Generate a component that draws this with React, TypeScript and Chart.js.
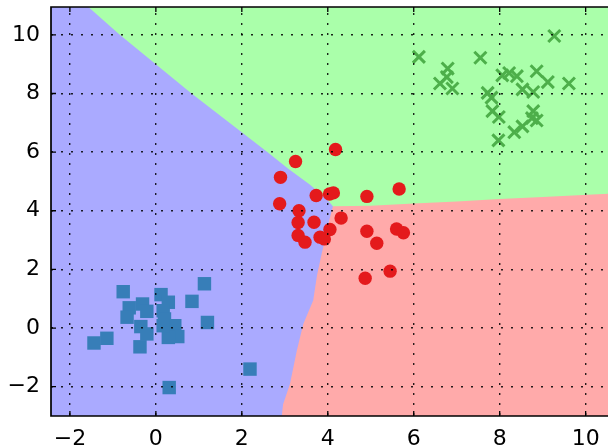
import React, { useEffect, useRef } from 'react';
import { Chart, registerables } from 'chart.js';
Chart.register(...registerables);

// Axis limits and ticks
const xLimits = [-2.44, 10.52];
const yLimits = [-3.0, 10.95];
const xTickValues = [-2, 0, 2, 4, 6, 8, 10];
const xTickLabels = ['−2', '0', '2', '4', '6', '8', '10'];
const yTickValues = [-2, 0, 2, 4, 6, 8, 10];
const yTickLabels = ['−2', '0', '2', '4', '6', '8', '10'];

// Class samples
const blueSquares: number[][] = [
  [1.13, 1.51], [-0.76, 1.24], [0.12, 1.14], [0.29, 0.88], [0.84, 0.91], [-0.62, 0.69],
  [-0.31, 0.82], [-0.21, 0.57], [-0.67, 0.37], [0.17, 0.59], [0.2, 0.31], [-0.35, 0.05],
  [-0.21, -0.2], [0.44, 0.08], [0.51, -0.29], [0.29, -0.32], [1.2, 0.19], [-1.14, -0.35],
  [-1.44, -0.51], [-0.37, -0.64], [0.31, -2.03], [0.17, 0.08], [2.19, -1.4],
];
const redCircles: number[][] = [
  [4.18, 6.09], [3.25, 5.68], [2.9, 5.14], [3.73, 4.52], [4.04, 4.57], [4.13, 4.61],
  [4.91, 4.49], [5.66, 4.74], [2.88, 4.24], [3.33, 4.0], [3.31, 3.6], [3.68, 3.61],
  [4.31, 3.75], [4.05, 3.36], [3.31, 3.16], [3.47, 2.93], [3.82, 3.1], [3.92, 3.04],
  [4.91, 3.3], [5.14, 2.89], [5.6, 3.38], [5.76, 3.25], [5.45, 1.94], [4.87, 1.7],
];
const greenCrosses: number[][] = [
  [9.27, 9.96], [6.12, 9.25], [7.55, 9.22], [6.79, 8.85], [6.77, 8.56], [6.61, 8.34],
  [6.9, 8.17], [8.06, 8.62], [8.22, 8.7], [8.4, 8.59], [8.86, 8.76], [9.12, 8.39],
  [9.61, 8.34], [8.53, 8.14], [8.78, 8.05], [7.72, 8.02], [7.81, 7.86], [7.83, 7.4],
  [7.98, 7.2], [8.78, 7.4], [8.75, 7.16], [8.86, 7.08], [8.53, 6.88], [8.34, 6.68],
  [7.97, 6.4],
];

// Decision boundaries
const blueGreenBoundary: number[][] = [
  [-1.57, 10.95], [-0.84, 10.0], [0.83, 8.0], [2.6, 6.0], [3.08, 5.43], [3.58, 4.9],
  [3.97, 4.41], [4.12, 4.15],
];
const greenRedBoundary: number[][] = [
  [4.12, 4.15], [5.0, 4.17], [6.0, 4.25], [7.0, 4.32], [8.0, 4.4], [9.0, 4.47], [10.52, 4.58],
];
const blueRedBoundary: number[][] = [
  [4.12, 4.15], [4.02, 3.6], [3.95, 3.1], [3.86, 2.55], [3.75, 1.8], [3.66, 0.94],
  [3.43, 0.14], [3.28, -0.77], [3.12, -1.91], [2.96, -2.6], [2.93, -3.0],
];

const toPts = (a: number[][]) => a.map(([x, y]) => ({ x, y }));

export default function App() {
  const ref = useRef<HTMLCanvasElement | null>(null);
  useEffect(() => {
    document.body.style.margin = '0';
    document.body.style.overflow = 'hidden';
    const [x0, x1] = xLimits;
    const [y0, y1] = yLimits;
    const redPoly = [[x0, y0], [x0, y1], [x1, y1], [x1, y0]];
    const grnLast = greenRedBoundary[greenRedBoundary.length - 1];
    const junction = greenRedBoundary[0];
    const greenPoly = [[x0, y1], [x1, y1], [x1, grnLast[1]], ...greenRedBoundary.slice().reverse(), [x0, junction[1]]];
    const bluePoly = [[x0, y0], [x0, y1], ...blueGreenBoundary, ...blueRedBoundary.slice(1)];

    const regionDs = (poly: number[][], color: string, order: number) => ({
      type: 'line' as const,
      data: toPts(poly),
      fill: 'shape',
      backgroundColor: color,
      borderWidth: 0,
      pointRadius: 0,
      showLine: true,
      tension: 0,
      order,
    });

    const frame = {
      id: 'frame',
      afterDraw(chart: any) {
        const { ctx, chartArea: a, scales } = chart;
        ctx.save();
        ctx.strokeStyle = '#000';
        ctx.lineWidth = 1.7;
        ctx.beginPath();
        ctx.moveTo(a.right + 2, a.top);
        ctx.lineTo(a.left, a.top);
        ctx.lineTo(a.left, a.bottom);
        ctx.lineTo(a.right + 2, a.bottom);
        ctx.stroke();
        ctx.lineWidth = 1.3;
        ctx.beginPath();
        for (const v of xTickValues) {
          const px = scales.x.getPixelForValue(v);
          ctx.moveTo(px, a.top);
          ctx.lineTo(px, a.top + 5);
          ctx.moveTo(px, a.bottom);
          ctx.lineTo(px, a.bottom - 5);
        }
        for (const v of yTickValues) {
          const py = scales.y.getPixelForValue(v);
          ctx.moveTo(a.left, py);
          ctx.lineTo(a.left + 5, py);
        }
        ctx.stroke();
        ctx.restore();
      },
    };

    const fontSpec = { family: 'DejaVu Sans', size: 22 };
    const chart = new Chart(ref.current!, {
      type: 'scatter',
      data: {
        datasets: [
          {
            data: toPts(greenCrosses),
            pointStyle: 'crossRot',
            pointRadius: 8.5,
            borderWidth: 3,
            borderColor: '#4daf4a',
            backgroundColor: '#4daf4a',
            order: 1,
          } as any,
          {
            data: toPts(redCircles),
            pointStyle: 'circle',
            pointRadius: 6.7,
            borderWidth: 0,
            backgroundColor: '#e41a1c',
            order: 2,
          },
          {
            data: toPts(blueSquares),
            pointStyle: 'rect',
            pointRadius: 9.5,
            borderWidth: 0,
            backgroundColor: '#377eb8',
            order: 3,
          },
          regionDs(bluePoly, '#aaaaff', 8),
          regionDs(greenPoly, '#aaffaa', 9),
          regionDs(redPoly, '#ffaaaa', 10),
        ] as any,
      },
      options: {
        animation: false,
        responsive: false,
        events: [],
        layout: { padding: { top: 7, left: 0, right: 0, bottom: 0 }, autoPadding: false },
        plugins: { legend: { display: false }, tooltip: { enabled: false } },
        scales: {
          x: {
            type: 'linear',
            min: x0,
            max: x1,
            afterBuildTicks: (s: any) => { s.ticks = xTickValues.map((v) => ({ value: v })); },
            afterFit: (s: any) => { s.height = 44; s.paddingLeft = 0; s.paddingRight = 0; s.paddingTop = 0; s.paddingBottom = 0; },
            ticks: {
              autoSkip: false,
              maxRotation: 0,
              padding: 10,
              color: '#000',
              font: fontSpec,
              callback: (v: any) => xTickLabels[xTickValues.indexOf(Number(v))] ?? '',
            },
            grid: { color: 'rgba(0,0,0,0.85)', lineWidth: 1.4, drawTicks: false, z: 1 },
            border: { display: false, dash: [2, 8], dashOffset: 4 },
          },
          y: {
            type: 'linear',
            min: y0,
            max: y1,
            afterBuildTicks: (s: any) => { s.ticks = yTickValues.map((v) => ({ value: v })); },
            afterFit: (s: any) => { s.width = 51; s.paddingLeft = 0; s.paddingRight = 0; s.paddingTop = 0; s.paddingBottom = 0; },
            ticks: {
              autoSkip: false,
              padding: 11,
              color: '#000',
              font: fontSpec,
              callback: (v: any) => yTickLabels[yTickValues.indexOf(Number(v))] ?? '',
            },
            grid: { color: 'rgba(0,0,0,0.85)', lineWidth: 1.4, drawTicks: false, z: 1 },
            border: { display: false, dash: [2, 8], dashOffset: 0 },
          },
        },
      } as any,
      plugins: [frame],
    });
    return () => chart.destroy();
  }, []);
  return (
    <canvas
      ref={ref}
      width={608}
      height={460}
      style={{ display: 'block', position: 'absolute', left: 0, top: 0, width: 608, height: 460 }}
    />
  );
}
